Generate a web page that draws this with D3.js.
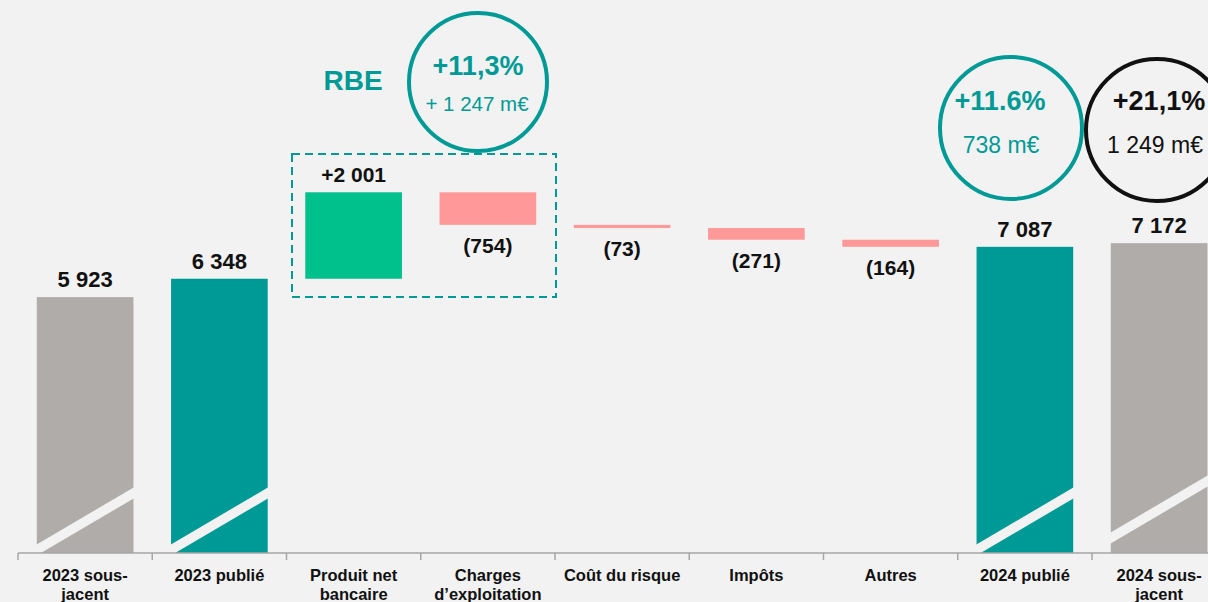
<!DOCTYPE html>
<html>
<head>
<meta charset="utf-8">
<script src="https://cdn.jsdelivr.net/npm/d3@7"></script>
<style>
  body { margin: 0; background: #f2f2f2; }
  svg { display: block; font-family: "Liberation Sans", Arial, sans-serif; }
</style>
</head>
<body>
<div id="chart"></div>
<script>
const w = 1208;
const h = 602;
const baseY = 553; // axis line

// data
const categories = [
  ["2023 sous-", "jacent"],
  ["2023 publié"],
  ["Produit net", "bancaire"],
  ["Charges", "d\u2019exploitation"],
  ["Coût du risque"],
  ["Impôts"],
  ["Autres"],
  ["2024 publié"],
  ["2024 sous-", "jacent"]
];
const values = [5923, 6348, 2001, -754, -73, -271, -164, 7087, 7172];
const kinds = ["under", "total", "delta", "delta", "delta", "delta", "delta", "total", "under"];
const valueLabels = ["5 923", "6 348", "+2 001", "(754)", "(73)", "(271)", "(164)", "7 087", "7 172"];

const colors = {
  under: "#b0acaa",
  total: "#009a96",
  up: "#00c08b",
  down: "#ff9999"
};
const bg = "#f2f2f2";
const teal = "#009a96";

// waterfall steps
let running = 0;
const bars = values.map((v, i) => {
  let y0, y1;
  if (kinds[i] === "delta") {
    y0 = running;
    y1 = running + v;
    running = y1;
  } else {
    y0 = 0;
    y1 = v;
    if (kinds[i] === "total") running = v;
  }
  return { i, v, y0, y1, kind: kinds[i], label: valueLabels[i] };
});

const xScale = d3.scaleBand()
  .domain(d3.range(categories.length))
  .range([18, 18 + 9 * 134.25])
  .paddingInner(0.28)
  .paddingOuter(0.14);

const yScale = d3.scaleLinear()
  .domain([0, 12800])
  .range([baseY, 0]);

const svg = d3.select("#chart")
  .append("svg")
  .attr("width", w)
  .attr("height", h)
  .style("background-color", bg);

// bars
svg.selectAll("rect.bar")
  .data(bars)
  .enter()
  .append("rect")
  .attr("class", "bar")
  .attr("x", (d) => xScale(d.i))
  .attr("width", xScale.bandwidth())
  .attr("y", (d) => yScale(Math.max(d.y0, d.y1)))
  .attr("height", (d) => Math.max(2, Math.abs(yScale(d.y0) - yScale(d.y1))))
  .style("fill", (d) => d.kind === "delta" ? (d.v > 0 ? colors.up : colors.down) : colors[d.kind]);

// axis break slashes on full bars
svg.selectAll("polygon.brk")
  .data(bars.filter((d) => d.kind !== "delta"))
  .enter()
  .append("polygon")
  .attr("class", "brk")
  .attr("points", (d) => {
    const x0 = xScale(d.i) - 1;
    const x1 = xScale(d.i) + xScale.bandwidth() + 1;
    const lift = d.i === 8 ? 12 : 0;
    return [
      [x0, baseY + 3 - lift], [x0, baseY - 8 - lift],
      [x1, baseY - 66 - lift], [x1, baseY - 55 - lift]
    ].map((p) => p.join(",")).join(" ");
  })
  .style("fill", bg);

// axis
const xAxis = d3.axisBottom(xScale).tickSize(0).tickFormat("");
const axisG = svg.append("g")
  .attr("transform", `translate(0, ${baseY})`)
  .call(xAxis);
axisG.select(".domain").remove();
axisG.append("line")
  .attr("x1", 18).attr("x2", w)
  .attr("stroke", "#a6a6a6").attr("stroke-width", 1.5);
axisG.selectAll("line.sep")
  .data(d3.range(categories.length + 1))
  .enter()
  .append("line")
  .attr("class", "sep")
  .attr("x1", (d) => 18 + d * xScale.step())
  .attr("x2", (d) => 18 + d * xScale.step())
  .attr("y1", 0).attr("y2", 7)
  .attr("stroke", "#a6a6a6").attr("stroke-width", 1.5);

// category labels
const catG = svg.selectAll("text.cat")
  .data(categories)
  .enter()
  .append("text")
  .attr("class", "cat")
  .attr("text-anchor", "middle")
  .attr("font-size", 16.5)
  .attr("font-weight", "bold")
  .attr("fill", "#111");
catG.selectAll("tspan")
  .data((d, i) => d.map((line) => ({ line, i })))
  .enter()
  .append("tspan")
  .attr("x", (d) => xScale(d.i) + xScale.bandwidth() / 2)
  .attr("y", (d, j) => 581 + j * 19)
  .text((d) => d.line);

// value labels
svg.selectAll("text.val")
  .data(bars)
  .enter()
  .append("text")
  .attr("class", "val")
  .attr("text-anchor", "middle")
  .attr("font-weight", "bold")
  .attr("font-size", (d) => d.kind === "delta" ? 21 : 22)
  .attr("fill", "#111")
  .attr("x", (d) => xScale(d.i) + xScale.bandwidth() / 2)
  .attr("y", (d) => {
    if (d.kind === "delta" && d.v < 0) return yScale(d.y1) + 28;
    return yScale(Math.max(d.y0, d.y1)) - 10;
  })
  .text((d) => d.label);

// RBE dashed box
svg.append("rect")
  .attr("x", 292).attr("y", 154)
  .attr("width", 264).attr("height", 143)
  .style("fill", "none")
  .style("stroke", teal)
  .style("stroke-width", 2)
  .style("stroke-dasharray", "8,5");

svg.append("text")
  .attr("x", 353).attr("y", 90)
  .attr("text-anchor", "middle")
  .attr("font-size", 28).attr("font-weight", "bold")
  .attr("fill", teal)
  .text("RBE");

// growth circles
const bubbles = [
  { cx: 478, cy: 82, r: 69, color: teal, pct: "+11,3%", amt: "+ 1 247 m\u20ac", px: 478, py: 75, ax: 477, ay: 111, as: 20.5 },
  { cx: 1011, cy: 128, r: 71, color: teal, pct: "+11.6%", amt: "738 m\u20ac", px: 1000, py: 110, ax: 1001, ay: 153, as: 23 },
  { cx: 1157, cy: 130, r: 71, color: "#111", pct: "+21,1%", amt: "1 249 m\u20ac", px: 1159, py: 110, ax: 1155, ay: 153, as: 23 }
];
bubbles.forEach((b) => {
  svg.append("circle")
    .attr("cx", b.cx).attr("cy", b.cy).attr("r", b.r)
    .style("fill", "none")
    .style("stroke", b.color)
    .style("stroke-width", 4);
  svg.append("text")
    .attr("x", b.px).attr("y", b.py)
    .attr("text-anchor", "middle")
    .attr("font-size", 27).attr("font-weight", "bold")
    .attr("fill", b.color)
    .text(b.pct);
  svg.append("text")
    .attr("x", b.ax).attr("y", b.ay)
    .attr("text-anchor", "middle")
    .attr("font-size", b.as)
    .attr("fill", b.color)
    .text(b.amt);
});
</script>
</body>
</html>
